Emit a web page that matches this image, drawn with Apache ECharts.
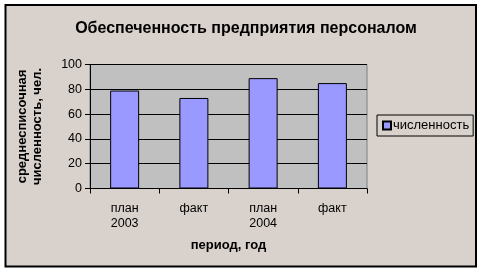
<!DOCTYPE html>
<html><head><meta charset="utf-8">
<script src="https://cdn.jsdelivr.net/npm/echarts@6/dist/echarts.min.js"></script>
<style>html,body{margin:0;padding:0;background:#fff}#c{width:483px;height:273px}</style>
</head><body><div id="c"></div>
<script>
var categories = ['план\n2003', 'факт', 'план\n2004', 'факт'];
var values = [79, 73, 89, 85];
var seriesName = 'численность';
var yTicks = [0, 20, 40, 60, 80, 100];

var chart = echarts.init(document.getElementById('c'), null, {renderer: 'canvas'});
var F = '"Liberation Sans", Arial, sans-serif';
chart.setOption({
  animation: false,
  backgroundColor: '#fff',
  graphic: [
    {type: 'rect', z: -10, shape: {x: 5.5, y: 5, width: 470.5, height: 261.5},
     style: {fill: '#D9D1CB', stroke: '#000', lineWidth: 2}},
    {type: 'rect', z: -5, shape: {x: 90, y: 64.5, width: 277, height: 124},
     style: {fill: '#C0C0C0', stroke: '#808080', lineWidth: 1}}
  ],
  title: {
    text: 'Обеспеченность предприятия персоналом',
    left: 241, top: 16, textAlign: 'center',
    textStyle: {fontFamily: F, fontSize: 16, fontWeight: 'bold', color: '#000'}
  },
  legend: {
    data: [seriesName], left: 377, top: 115, orient: 'vertical',
    padding: [4, 4, 4, 5], itemWidth: 8, itemHeight: 8, itemGap: 0,
    borderColor: '#000', borderWidth: 1, width: 94, height: 14,
    icon: 'rect',
    textStyle: {fontFamily: F, fontSize: 13, color: '#000', padding: [0, 0, 0, -3]}
  },
  grid: {left: 90, top: 64.5, width: 277, height: 124},
  xAxis: {
    type: 'category', data: categories,
    name: 'период, год', nameLocation: 'middle', nameGap: 50,
    nameTextStyle: {fontFamily: F, fontSize: 13, fontWeight: 'bold', color: '#000'},
    axisLine: {lineStyle: {color: '#000', width: 1}},
    axisTick: {show: true, length: 5, lineStyle: {color: '#000'}},
    axisLabel: {fontFamily: F, fontSize: 12.5, color: '#000', margin: 13, lineHeight: 15}
  },
  yAxis: {
    type: 'value', min: 0, max: 100, interval: 20,
    name: 'среднесписочная\nчисленность, чел.', nameLocation: 'middle', nameGap: 45,
    nameRotate: 90,
    nameTextStyle: {fontFamily: F, fontSize: 13, fontWeight: 'bold', color: '#000', lineHeight: 15},
    axisLine: {show: true, lineStyle: {color: '#000'}},
    axisTick: {show: true, length: 5, lineStyle: {color: '#000'}},
    axisLabel: {fontFamily: F, fontSize: 12.5, color: '#000', margin: 8,
      formatter: function (v) { return yTicks.indexOf(v) >= 0 ? String(v) : ''; }},
    splitLine: {show: true, lineStyle: {color: '#000', width: 1}}
  },
  series: [{
    name: seriesName, type: 'bar', data: values, barWidth: 29,
    itemStyle: {color: '#9999FF', borderColor: '#000', borderWidth: 1}
  }]
});
</script></body></html>
